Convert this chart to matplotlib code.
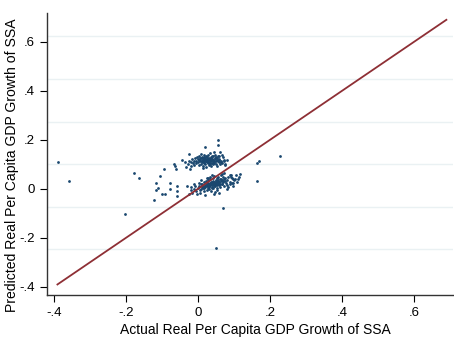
import matplotlib
matplotlib.use("Agg")
import matplotlib.pyplot as plt
import numpy as np

plt.rcParams['font.family'] = ['Liberation Sans', 'DejaVu Sans']

# scattered observations away from the two main clusters
outer_actual = [-0.389, -0.358, -0.203, -0.177, -0.164, -0.104, -0.094, -0.066, -0.064, -0.062,
                -0.045, -0.025, 0.019, 0.056, 0.056, 0.061, 0.059, 0.227, 0.163, 0.170,
                0.163, -0.115, -0.115, -0.110, -0.121, -0.099, -0.092, -0.078, -0.077, -0.059,
                -0.059, -0.058, 0.069, 0.050, 0.089, 0.092, 0.098, 0.103, 0.094, 0.098,
                0.083, 0.075, 0.073]
outer_pred = [0.110, 0.033, -0.102, 0.065, 0.045, 0.053, 0.082, 0.102, 0.092, 0.082,
              0.116, 0.142, 0.169, 0.200, 0.180, 0.152, 0.135, 0.135, 0.107, 0.114,
              0.031, 0.023, -0.004, 0.003, -0.047, -0.020, -0.022, 0.023, -0.001, 0.012,
              -0.007, -0.027, -0.080, -0.242, 0.057, 0.050, 0.040, 0.040, 0.023, 0.012,
              0.009, 0.101, 0.118]

# upper cluster
upper_actual = [0.000, 0.005, 0.010, 0.012, 0.015, 0.018, 0.020, 0.022, 0.025, 0.028,
                0.030, 0.032, 0.035, 0.038, 0.040, 0.042, 0.045, 0.048, 0.050, 0.053,
                0.055, 0.058, 0.060, 0.065, 0.070, 0.075, 0.080, -0.005, -0.008, -0.010,
                -0.012, -0.015, -0.018, -0.020, -0.025, -0.028, -0.032, -0.035, 0.003, 0.008,
                0.013, 0.017, 0.023, 0.027, 0.033, 0.037, 0.043, 0.047, 0.052, 0.057,
                0.062, 0.068, 0.072, 0.002, -0.002, 0.006, 0.011, 0.016, 0.021, 0.026,
                0.031, 0.036, 0.041, 0.046, 0.051, 0.024, 0.019, 0.034, 0.039, 0.029,
                -0.022, 0.014, 0.044, 0.066, 0.009,
                0.004, 0.014, 0.024, 0.034, 0.044, 0.054, 0.007, 0.017, 0.027, 0.037,
                0.047, 0.001, 0.011, 0.021, 0.031, 0.041, 0.018, 0.028, 0.038, 0.023,
                0.033, 0.013, -0.004, 0.059, 0.063, -0.014, 0.049, 0.026, 0.036, 0.016]
upper_pred = [0.120, 0.112, 0.125, 0.108, 0.118, 0.130, 0.102, 0.115, 0.122, 0.110,
              0.128, 0.098, 0.117, 0.106, 0.124, 0.133, 0.112, 0.120, 0.103, 0.127,
              0.115, 0.108, 0.122, 0.112, 0.130, 0.096, 0.118, 0.105, 0.128, 0.114,
              0.098, 0.122, 0.108, 0.092, 0.115, 0.100, 0.088, 0.110, 0.135, 0.143,
              0.095, 0.140, 0.090, 0.138, 0.145, 0.092, 0.100, 0.140, 0.093, 0.135,
              0.100, 0.105, 0.115, 0.098, 0.130, 0.118, 0.113, 0.104, 0.127, 0.119,
              0.111, 0.125, 0.116, 0.105, 0.131, 0.108, 0.121, 0.103, 0.136, 0.117,
              0.080, 0.084, 0.150, 0.140, 0.103,
              0.116, 0.121, 0.113, 0.119, 0.109, 0.117, 0.126, 0.110, 0.124, 0.112,
              0.126, 0.109, 0.131, 0.118, 0.122, 0.114, 0.112, 0.104, 0.120, 0.134,
              0.107, 0.127, 0.114, 0.118, 0.109, 0.104, 0.113, 0.129, 0.130, 0.123]

# lower cluster
lower_actual = [0.030, 0.035, 0.040, 0.045, 0.050, 0.055, 0.025, 0.020, 0.015, 0.010,
                0.005, 0.000, -0.005, -0.010, -0.015, -0.020, 0.060, 0.065, 0.070, 0.075,
                0.080, 0.085, 0.090, 0.095, 0.100, 0.105, 0.110, 0.115, 0.028, 0.033,
                0.038, 0.042, 0.048, 0.052, 0.058, 0.062, 0.068, 0.072, 0.078, 0.082,
                0.088, 0.018, 0.022, 0.012, 0.008, 0.003, 0.026, 0.032, 0.037, 0.043,
                0.047, 0.053, 0.057, 0.063, 0.067, 0.073, 0.045, 0.040, 0.035, 0.024,
                0.016, 0.006, -0.002, -0.008, -0.012, -0.018, -0.025, -0.030, 0.031, 0.036,
                0.041, 0.046, 0.051, 0.056, 0.027, 0.021, 0.013, 0.061, 0.066, 0.071,
                0.076, 0.093, 0.098, 0.108, 0.118, 0.003, 0.049, 0.054, 0.039, 0.029,
                0.044, 0.060, 0.080, 0.019, 0.009,
                0.034, 0.039, 0.044, 0.049, 0.054, 0.059, 0.064, 0.069, 0.029, 0.024,
                0.019, 0.014, 0.037, 0.042, 0.047, 0.052, 0.057, 0.032, 0.027, 0.062,
                0.067, 0.072, 0.040, 0.050, 0.035, 0.045, 0.055, 0.025, 0.017, 0.011]
lower_pred = [0.020, 0.025, 0.015, 0.030, 0.022, 0.035, 0.010, 0.015, 0.005, 0.000,
              -0.005, 0.005, -0.010, 0.000, -0.015, -0.005, 0.028, 0.040, 0.032, 0.045,
              0.038, 0.050, 0.030, 0.045, 0.035, 0.055, 0.040, 0.048, 0.035, 0.040,
              0.030, 0.045, 0.010, 0.005, 0.015, 0.008, 0.020, 0.012, 0.025, 0.015,
              0.020, 0.028, 0.032, 0.020, 0.018, 0.025, -0.005, 0.000, -0.008, 0.003,
              -0.012, -0.003, 0.048, 0.055, 0.060, 0.065, 0.052, 0.058, 0.050, 0.045,
              -0.010, -0.018, -0.022, 0.012, 0.018, 0.008, -0.020, 0.010, 0.012, 0.018,
              0.022, 0.016, 0.028, 0.024, 0.026, 0.006, 0.011, 0.042, 0.018, 0.050,
              0.033, 0.058, 0.025, 0.028, 0.060, 0.012, 0.038, 0.045, 0.008, 0.044,
              -0.020, -0.015, 0.000, -0.025, 0.035,
              0.017, 0.021, 0.025, 0.019, 0.031, 0.027, 0.033, 0.027, 0.016, 0.021,
              0.010, 0.008, 0.027, 0.033, 0.021, 0.014, 0.030, 0.006, 0.002, 0.022,
              0.035, 0.040, 0.003, 0.034, 0.014, 0.010, 0.018, 0.019, 0.002, 0.006]

# 45-degree reference line endpoints
line_range = [-0.39, 0.69]

xticks = [-0.4, -0.2, 0, 0.2, 0.4, 0.6]
yticks = [-0.4, -0.2, 0, 0.2, 0.4, 0.6]
tick_labels = ['-.4', '-.2', '0', '.2', '.4', '.6']
grid_y = [-0.245, -0.073, 0.102, 0.273, 0.449, 0.624]

actual = np.array(outer_actual + upper_actual + lower_actual)
pred = np.array(outer_pred + upper_pred + lower_pred)

fig = plt.figure(figsize=(4.54, 3.39), dpi=100)
ax = fig.add_axes([0.1035, 0.1298, 0.894, 0.832])

for g in grid_y:
    ax.axhline(g, color='#eaf1f3', lw=1.0, zorder=0)

ax.scatter(actual, pred, s=4, color='#1a476f', marker='o', linewidths=0, zorder=2)
ax.plot(line_range, line_range, color='#8e2f35', lw=1.3, zorder=3)

ax.set_xlim(-0.419, 0.708)
ax.set_ylim(-0.433, 0.718)
ax.set_xticks(xticks)
ax.set_xticklabels(tick_labels)
ax.set_yticks(yticks)
ax.set_yticklabels(tick_labels)
ax.tick_params(direction='out', length=5, width=0.8, labelsize=9.5, colors='black')

for side in ['top', 'right']:
    ax.spines[side].set_visible(False)
for side in ['left', 'bottom']:
    ax.spines[side].set_color('#333333')
    ax.spines[side].set_linewidth(1.0)

ax.set_xlabel('Actual Real Per Capita GDP Growth of SSA', fontsize=10)
ax.xaxis.set_label_coords(0.513, -0.1)
ax.set_ylabel('Predicted Real Per Capita GDP Growth of SSA', fontsize=10.1)
ax.yaxis.set_label_coords(-0.068, 0.46)

fig.savefig('out.png', dpi=100)
